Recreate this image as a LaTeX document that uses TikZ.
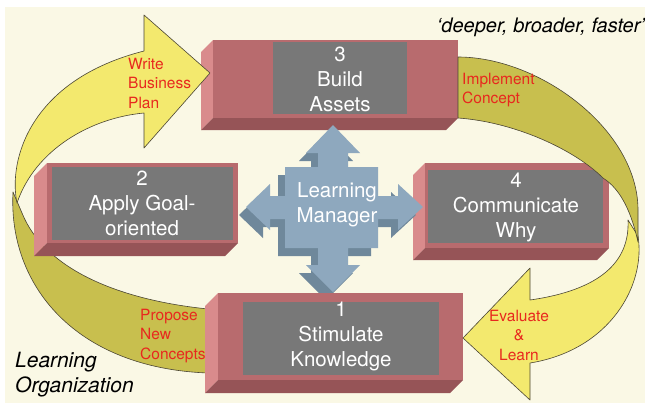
\documentclass[tikz,border=0pt]{standalone}
\usepackage{fontspec}
\setmainfont{TeX Gyre Heros}
\definecolor{bgcream}{HTML}{FAF8E5}
\definecolor{boxfrontc}{HTML}{B86B6E}
\definecolor{boxleftc}{HTML}{D98B8C}
\definecolor{boxbottomc}{HTML}{965457}
\definecolor{boxgreyc}{HTML}{787878}
\definecolor{ylw}{HTML}{F3E96E}
\definecolor{olv}{HTML}{C8BF4E}
\definecolor{edgec}{HTML}{4A4535}
\definecolor{crossfront}{HTML}{8EA8BE}
\definecolor{crossdark}{HTML}{6F889B}
\definecolor{lblred}{HTML}{E8281E}
\tikzset{
  ribbonY/.style={fill=ylw, draw=edgec, line width=0.6pt, line join=round},
  ribbonO/.style={fill=olv, draw=edgec, line width=0.6pt, line join=round},
  boxtxt/.style={text=white, align=center, inner sep=0pt, font=\fontsize{20.5}{25}\selectfont},
  redtxt/.style={text=lblred, inner sep=0pt, font=\fontsize{15.5}{19.5}\selectfont},
  ittxt/.style={text=black, inner sep=0pt, font=\itshape\fontsize{21}{25}\selectfont},
}
\newcommand\mybox[9]{%
  \fill[boxleftc] (#1,#2) -- (#1-#5,#2+#5) -- (#1-#5,#4+#5) -- (#1,#4) -- cycle;
  \fill[boxbottomc] (#1,#4) -- (#1-#5,#4+#5) -- (#3-#5,#4+#5) -- (#3,#4) -- cycle;
  \fill[boxfrontc] (#1,#2) rectangle (#3,#4);
  \fill[boxgreyc] (#6,#7) rectangle (#8,#9);
}
\newcommand\crosspath{(333,125) -- (360,153) -- (348,153) -- (348,167) -- (378,167) -- (378,196) -- (398,196) -- (398,184) -- (423,207) -- (398,230) -- (398,219) -- (378,219) -- (378,248) -- (348,248) -- (348,265) -- (360,265) -- (333,292) -- (306,265) -- (318,265) -- (318,248) -- (285,248) -- (285,219) -- (270,219) -- (270,230) -- (246,207) -- (270,184) -- (270,196) -- (285,196) -- (285,167) -- (318,167) -- (318,153) -- (306,153) -- cycle}
\begin{document}
\begin{tikzpicture}[x=1pt,y=-1pt]
\useasboundingbox (0,0) rectangle (645,405);
\fill[white] (0,0) rectangle (645,405);
\fill[bgcream] (5,7) rectangle (645,403);
% olive back part of the left ribbon
\draw[ribbonO] (13,192) .. controls (8,285) and (75,368) .. (208,373) -- (208,309)
  .. controls (120,300) and (45,270) .. (22,213) -- cycle;
% boxes 3, 2, 4
\mybox{213}{40}{458}{118}{12}{273}{42}{407}{114}
\mybox{47}{163}{238}{243}{13}{52}{167}{233}{240}
\mybox{425}{163}{609}{248}{12}{428}{170}{603}{243}
% learning manager cross
\fill[crossdark, shift={(-7,8)}] \crosspath;
\fill[crossfront] \crosspath;
% box 1
\mybox{218}{293}{463}{380}{13}{243}{302}{439}{375}
% yellow front parts of the ribbons
\draw[ribbonY] (17,203) .. controls (8,160) and (30,80) .. (144,51) -- (144,15) -- (210,73) -- (144,148) -- (144,113)
  .. controls (90,118) and (35,150) .. (17,203) -- cycle;
\draw[ribbonY] (628,220) -- (638,236) .. controls (646,285) and (610,350) .. (530,363) -- (530,400) -- (463,338) -- (530,268) -- (530,300)
  .. controls (600,290) and (630,262) .. (628,220) -- cycle;
% olive back part of the right ribbon, tapering over the twist
\draw[ribbonO] (458,57) .. controls (540,57) and (638,130) .. (638,210) -- (638,242)
  .. controls (632,215) and (622,190) .. (603,178)
  .. controls (575,150) and (515,122) .. (458,118) -- cycle;
% texts
\node[boxtxt] (b3) at (340,79) {3\\Build\\Assets};
\node[boxtxt] (b2) at (142,203) {2\\Apply Goal-\\oriented};
\node[boxtxt] (b4) at (516,207) {4\\Communicate\\Why};
\node[boxtxt] (b1) at (341,336) {1\\Stimulate\\Knowledge};
\node[boxtxt] (lm) at (337,205) {Learning\\Manager};
\node[redtxt, anchor=west, align=left] (wbp) at (128,83) {Write\\Business\\Plan};
\node[redtxt, anchor=west, align=left] (ic) at (462,90) {Implement\\Concept};
\node[redtxt, anchor=west, align=left] (pnc) at (140,336) {Propose\\New\\Concepts};
\node[redtxt, align=center] (el) at (519,335) {Evaluate\\\&\\Learn};
\node[ittxt, anchor=west, align=left] (lo) at (15,375) {Learning\\Organization};
\node[ittxt, anchor=east, font=\itshape\fontsize{20}{24}\selectfont] (dbf) at (645,27) {‘deeper, broader, faster’};
\end{tikzpicture}
\end{document}
